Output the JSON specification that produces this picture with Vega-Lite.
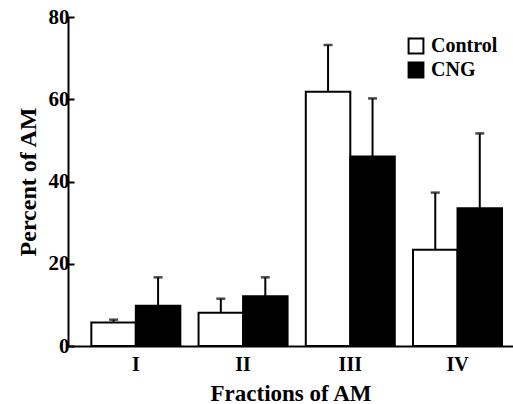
{
  "$schema": "https://vega.github.io/schema/vega-lite/v6.json",
  "autosize": {"type": "none"},
  "width": 445,
  "height": 329,
  "padding": {"left": 68, "top": 17, "right": 0, "bottom": 58},
  "background": "white",
  "config": {
    "view": {"stroke": null},
    "font": "Liberation Serif",
    "text": {"font": "Liberation Serif"},
    "legend": {"labelFont": "Liberation Serif", "titleFont": "Liberation Serif"},
    "axis": {"grid": false, "domainColor": "black", "domainWidth": 2, "labelColor": "black", "titleColor": "black", "labelFont": "Liberation Serif", "titleFont": "Liberation Serif", "labelFontWeight": "bold", "titleFontWeight": "bold"}
  },
  "data": {
    "values": [
      {"fraction": "I", "group": "Control", "value": 5.7, "upper": 6.4},
      {"fraction": "I", "group": "CNG", "value": 9.8, "upper": 16.7},
      {"fraction": "II", "group": "Control", "value": 8.1, "upper": 11.5},
      {"fraction": "II", "group": "CNG", "value": 12.1, "upper": 16.7},
      {"fraction": "III", "group": "Control", "value": 61.8, "upper": 73.2},
      {"fraction": "III", "group": "CNG", "value": 46.1, "upper": 60.2},
      {"fraction": "IV", "group": "Control", "value": 23.4, "upper": 37.3},
      {"fraction": "IV", "group": "CNG", "value": 33.5, "upper": 51.7}
    ]
  },
  "encoding": {
    "x": {
      "field": "fraction", "type": "nominal", "sort": ["I", "II", "III", "IV"],
      "scale": {"paddingInner": 0.17, "paddingOuter": 0.16, "align": 0.68},
      "axis": {"title": "Fractions of AM", "labelAngle": 0, "ticks": false, "labelPadding": 8, "labelFontSize": 20, "titleFontSize": 23, "titlePadding": 8}
    },
    "xOffset": {"field": "group", "type": "nominal", "sort": ["Control", "CNG"], "scale": {"paddingInner": 0, "paddingOuter": 0}}
  },
  "layer": [
    {
      "mark": {"type": "rule", "stroke": "black", "strokeWidth": 2},
      "encoding": {
        "y": {"field": "value", "type": "quantitative"},
        "y2": {"field": "upper"}
      }
    },
    {
      "mark": {"type": "tick", "orient": "horizontal", "size": 9, "thickness": 2.5, "color": "black"},
      "encoding": {
        "y": {"field": "upper", "type": "quantitative"}
      }
    },
    {
      "mark": {"type": "bar", "stroke": "black", "strokeWidth": 2},
      "encoding": {
        "y": {
          "field": "value", "type": "quantitative",
          "scale": {"domain": [0, 80], "nice": false},
          "axis": {"title": "Percent of AM", "values": [0, 20, 40, 60, 80], "tickSize": -6, "tickWidth": 2, "tickColor": "black", "labelPadding": 5, "labelFontSize": 21, "titleFontSize": 24, "titlePadding": 8}
        },
        "fill": {
          "field": "group", "type": "nominal", "sort": ["Control", "CNG"],
          "scale": {"domain": ["Control", "CNG"], "range": ["white", "black"]},
          "legend": {"title": null, "orient": "none", "legendX": 338, "legendY": 19, "symbolType": "square", "symbolSize": 220, "symbolStrokeColor": "black", "symbolStrokeWidth": 2, "labelFont": "Liberation Serif", "labelFontWeight": "bold", "labelFontSize": 20, "labelColor": "black", "rowPadding": 0, "labelOffset": 5}
        }
      }
    }
  ]
}
